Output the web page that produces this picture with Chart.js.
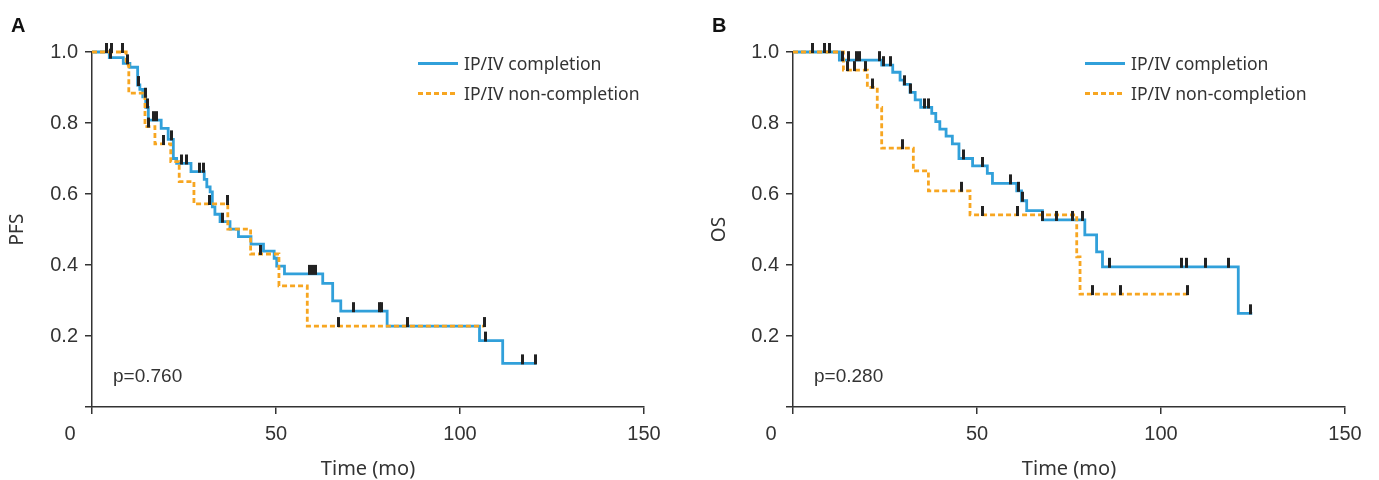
<!DOCTYPE html>
<html><head><meta charset="utf-8">
<script src="https://cdn.jsdelivr.net/npm/chart.js@4/dist/chart.umd.min.js"></script>
<style>
html,body{margin:0;padding:0;background:#fff;width:1379px;height:480px;overflow:hidden;position:relative;font-family:"Liberation Sans",Arial,sans-serif;}
canvas{position:absolute;top:0}
#cA{left:0}
#cB{left:690px}
.lbl{position:absolute;font-weight:bold;font-size:20px;color:#111;line-height:20px}
.leg{position:absolute;font-family:"Noto Sans",sans-serif;font-size:17.6px;color:#333;line-height:20px;white-space:nowrap}
.sw{position:absolute;width:40px;height:3px}
.swb{background:#31a0da}
.swo{background:repeating-linear-gradient(to right,#f7a621 0 5px,transparent 5px 8px)}
.pv{position:absolute;font-size:19px;color:#333;line-height:20px;white-space:nowrap}
</style></head><body>
<canvas id="cA" width="690" height="480"></canvas>
<canvas id="cB" width="689" height="480"></canvas>
<div class="lbl" style="left:11px;top:15px">A</div>
<div class="lbl" style="left:712px;top:15px">B</div>
<div class="sw swb" style="left:418px;top:62px"></div>
<div class="leg" style="left:464px;top:53px">IP/IV completion</div>
<div class="sw swo" style="left:418px;top:92px"></div>
<div class="leg" style="left:464px;top:83px">IP/IV non-completion</div>
<div class="sw swb" style="left:1085px;top:62px"></div>
<div class="leg" style="left:1131px;top:53px">IP/IV completion</div>
<div class="sw swo" style="left:1085px;top:92px"></div>
<div class="leg" style="left:1131px;top:83px">IP/IV non-completion</div>
<div class="pv" style="left:113px;top:366px">p=0.760</div>
<div class="pv" style="left:814px;top:366px">p=0.280</div>
<script>
// ---------- Panel A (PFS) ----------
const aBlueT = [0, 4.7, 8.5, 10.3, 12.4, 13.0, 13.8, 14.6, 15.3, 18.8, 20.7, 22.1, 23.0, 26.9, 30.5, 31.2, 32.1, 32.7, 33.4, 34.8, 37.5, 39.8, 43.2, 46.6, 49.5, 50.2, 52.3, 62.7, 65.4, 67.6, 80.2, 105.3, 111.6, 120.8];
const aBlueS = [1, 0.984, 0.968, 0.957, 0.907, 0.895, 0.874, 0.844, 0.808, 0.785, 0.754, 0.700, 0.686, 0.663, 0.641, 0.620, 0.606, 0.564, 0.543, 0.522, 0.501, 0.480, 0.459, 0.439, 0.419, 0.397, 0.375, 0.348, 0.299, 0.270, 0.228, 0.187, 0.123, 0.123];
const aBlueCensT = [4.0, 5.0, 9.6, 12.5, 14.5, 15.2, 16.8, 17.6, 21.5, 24.4, 25.7, 29.2, 30.4, 35.4, 59.0, 59.8, 60.6, 71.0, 78.1, 78.6, 106.8, 117.0, 120.6];
const aBlueCensS = [1.0, 0.984, 0.968, 0.907, 0.874, 0.844, 0.808, 0.808, 0.754, 0.686, 0.686, 0.663, 0.663, 0.522, 0.375, 0.375, 0.375, 0.270, 0.270, 0.270, 0.187, 0.123, 0.123];
const aOrgT = [0, 9.3, 10.0, 14.4, 17.1, 21.4, 23.7, 27.7, 36.9, 43.1, 50.8, 58.5, 106.6];
const aOrgS = [1, 0.963, 0.884, 0.790, 0.741, 0.691, 0.635, 0.572, 0.501, 0.431, 0.341, 0.228, 0.228];
const aOrgCensT = [5.4, 8.2, 15.3, 19.4, 32.0, 36.9, 45.8, 66.9, 85.7, 106.6];
const aOrgCensS = [1.0, 1.0, 0.790, 0.741, 0.572, 0.572, 0.431, 0.228, 0.228, 0.228];

// ---------- Panel B (OS) ----------
const bBlueT = [0, 12.6, 24.1, 27.1, 29.1, 30.2, 31.8, 33.2, 34.7, 37.7, 38.8, 39.9, 41.6, 43.3, 45.1, 48.8, 52.8, 54.2, 60.8, 62.1, 63.5, 67.8, 79.3, 82.5, 84.1, 121.0, 124.8];
const bBlueS = [1, 0.977, 0.963, 0.943, 0.921, 0.909, 0.886, 0.865, 0.844, 0.827, 0.804, 0.783, 0.763, 0.741, 0.700, 0.679, 0.658, 0.630, 0.609, 0.581, 0.553, 0.527, 0.485, 0.437, 0.395, 0.264, 0.264];
const bBlueCensT = [5.2, 8.5, 9.8, 13.4, 15.2, 17.3, 18.2, 23.6, 24.5, 26.4, 30.4, 31.9, 35.8, 36.7, 46.4, 51.4, 59.0, 61.2, 62.3, 67.8, 71.6, 75.9, 78.6, 86.1, 105.5, 106.9, 112.0, 118.3, 124.2];
const bBlueCensS = [1.0, 1.0, 1.0, 0.977, 0.977, 0.977, 0.977, 0.977, 0.963, 0.963, 0.909, 0.886, 0.844, 0.844, 0.700, 0.679, 0.630, 0.609, 0.581, 0.527, 0.527, 0.527, 0.527, 0.395, 0.395, 0.395, 0.395, 0.395, 0.264];
const bOrgT = [0, 13.7, 20.2, 22.9, 24.1, 32.7, 36.8, 48.1, 77.1, 78.0, 107.2];
const bOrgS = [1, 0.949, 0.900, 0.844, 0.729, 0.665, 0.609, 0.541, 0.423, 0.318, 0.318];
const bOrgCensT = [14.8, 16.6, 19.6, 21.6, 29.8, 45.8, 51.4, 61.0, 81.3, 88.9, 107.2];
const bOrgCensS = [0.949, 0.949, 0.949, 0.900, 0.729, 0.609, 0.541, 0.541, 0.318, 0.318, 0.318];

const xTicks = [0, 50, 100, 150];
const yTicks = [0, 0.2, 0.4, 0.6, 0.8, 1.0];

const BLUE = '#31a0da', ORANGE = '#f7a621', INK = '#333';

const mark = document.createElement('canvas');
mark.width = 3; mark.height = 20;
const mctx = mark.getContext('2d');
mctx.fillStyle = '#222';
mctx.fillRect(0, 1, 3, 10);

const pts = (T, S) => T.map((t, i) => ({x: t, y: S[i]}));

const zeroLabel = {
  id: 'zeroLabel',
  afterDraw(chart) {
    const {ctx, scales: {x}} = chart;
    ctx.save();
    ctx.font = '20px "Liberation Sans"';
    ctx.fillStyle = INK;
    ctx.textAlign = 'center';
    ctx.textBaseline = 'middle';
    ctx.fillText(String(xTicks[0]), x.getPixelForValue(xTicks[0]) - 22, x.top + 27);
    ctx.restore();
  }
};

function makeChart(id, o) {
  new Chart(document.getElementById(id), {
    type: 'scatter',
    data: {
      datasets: [
        {data: pts(o.bct, o.bcs), pointStyle: mark, pointRadius: 4, showLine: false, order: 0, clip: false},
        {data: pts(o.oct, o.ocs), pointStyle: mark, pointRadius: 4, showLine: false, order: 0, clip: false},
        {data: pts(o.ot, o.os), showLine: true, stepped: true, borderColor: ORANGE, borderWidth: 2.8, borderDash: [5, 3], pointRadius: 0, fill: false, order: 1, clip: false},
        {data: pts(o.bt, o.bs), showLine: true, stepped: true, borderColor: BLUE, borderWidth: 2.8, pointRadius: 0, fill: false, order: 2, clip: false}
      ]
    },
    options: {
      responsive: false,
      animation: false,
      events: [],
      layout: {padding: {left: 0, right: o.padR, top: 52, bottom: 0}},
      plugins: {legend: {display: false}, tooltip: {enabled: false}},
      scales: {
        x: {
          type: 'linear', min: 0, max: 150,
          afterBuildTicks: s => { s.ticks = xTicks.map(v => ({value: v})); },
          ticks: {font: {family: 'Liberation Sans', size: 20}, color: INK, padding: 8, maxRotation: 0,
                  callback: v => v === 0 ? '' : String(v)},
          grid: {drawOnChartArea: false, tickLength: 7, color: INK, lineWidth: 1.5},
          border: {color: INK, width: 1.5},
          title: {display: true, text: 'Time (mo)', font: {family: 'Noto Sans', size: 20, lineHeight: 1}, color: INK, padding: {top: 0, bottom: 1}},
          afterFit: s => { s.height = 73; }
        },
        y: {
          min: 0, max: 1,
          afterBuildTicks: s => { s.ticks = yTicks.map(v => ({value: v})); },
          ticks: {font: {family: 'Liberation Sans', size: 20}, color: INK, padding: 7,
                  callback: v => v === 0 ? '' : v.toFixed(1)},
          grid: {drawOnChartArea: false, tickLength: 7, color: INK, lineWidth: 1.5},
          border: {color: INK, width: 1.5},
          title: {display: true, text: o.ytitle, font: {family: 'Noto Sans', size: 19, lineHeight: 1}, color: INK, padding: {top: o.titlePad, bottom: 0}},
          afterFit: s => { s.width = o.yW; }
        }
      }
    },
    plugins: [zeroLabel]
  });
}

makeChart('cA', {bt: aBlueT, bs: aBlueS, bct: aBlueCensT, bcs: aBlueCensS, ot: aOrgT, os: aOrgS, oct: aOrgCensT, ocs: aOrgCensS, ytitle: 'PFS', yW: 92, padR: 46, titlePad: 8});
makeChart('cB', {bt: bBlueT, bs: bBlueS, bct: bBlueCensT, bcs: bBlueCensS, ot: bOrgT, os: bOrgS, oct: bOrgCensT, ocs: bOrgCensS, ytitle: 'OS', yW: 103, padR: 34, titlePad: 20});
</script>
</body></html>
